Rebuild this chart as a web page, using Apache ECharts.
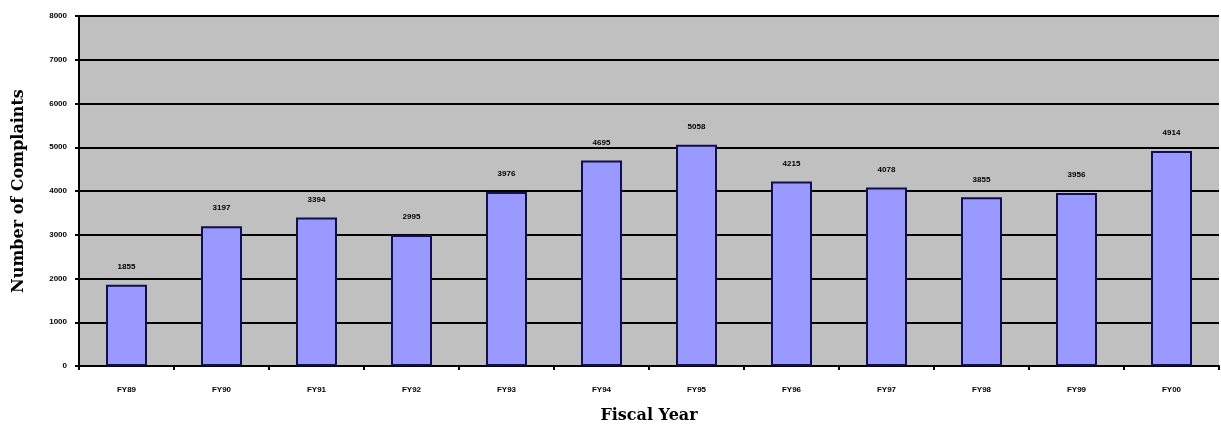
<!DOCTYPE html>
<html>
<head>
<meta charset="utf-8">
<script src="https://cdn.jsdelivr.net/npm/echarts@6/dist/echarts.min.js"></script>
<style>
html,body{margin:0;padding:0;background:#fff;}
#chart{width:1221px;height:429px;}
</style>
</head>
<body>
<div id="chart"></div>
<script>
var categories = ['FY89','FY90','FY91','FY92','FY93','FY94','FY95','FY96','FY97','FY98','FY99','FY00'];
var complaints = [1855, 3197, 3394, 2995, 3976, 4695, 5058, 4215, 4078, 3855, 3956, 4914];
var yTicks = [0, 1000, 2000, 3000, 4000, 5000, 6000, 7000, 8000];

var chart = echarts.init(document.getElementById('chart'));
chart.setOption({
  animation: false,
  backgroundColor: '#ffffff',
  grid: {
    left: 79, right: 2, top: 16, bottom: 62,
    show: true, backgroundColor: '#c0c0c0', borderWidth: 0
  },
  xAxis: {
    type: 'category',
    data: categories,
    name: 'Fiscal Year',
    nameLocation: 'middle',
    nameGap: 42,
    nameTextStyle: {fontFamily: 'DejaVu Serif', fontWeight: 'bold', fontSize: 16, color: '#000'},
    axisLine: {show: true, lineStyle: {color: '#000', width: 2}},
    axisTick: {show: true, length: 4, lineStyle: {color: '#000', width: 2}},
    axisLabel: {fontFamily: 'Arial, Liberation Sans', fontWeight: 'bold', fontSize: 8, color: '#000', margin: 20}
  },
  yAxis: {
    type: 'value',
    min: yTicks[0],
    max: yTicks[yTicks.length - 1],
    interval: 1000,
    name: 'Number of Complaints',
    nameLocation: 'middle',
    nameGap: 52,
    nameTextStyle: {fontFamily: 'DejaVu Serif', fontWeight: 'bold', fontSize: 16, color: '#000'},
    axisLine: {show: true, lineStyle: {color: '#000', width: 2}},
    axisTick: {show: true, length: 4, lineStyle: {color: '#000', width: 2}},
    axisLabel: {
      fontFamily: 'Arial, Liberation Sans', fontWeight: 'bold', fontSize: 8, color: '#000', margin: 12,
      formatter: function (v) { return String(v); }
    },
    splitLine: {show: true, lineStyle: {color: '#000', width: 2}}
  },
  series: [{
    type: 'bar',
    data: complaints,
    barWidth: 41,
    itemStyle: {color: '#9999ff', borderColor: '#10104a', borderWidth: 2},
    label: {
      show: true, position: 'top', distance: 14,
      fontFamily: 'Arial, Liberation Sans', fontWeight: 'bold', fontSize: 8, color: '#000'
    }
  }]
});
</script>
</body>
</html>
